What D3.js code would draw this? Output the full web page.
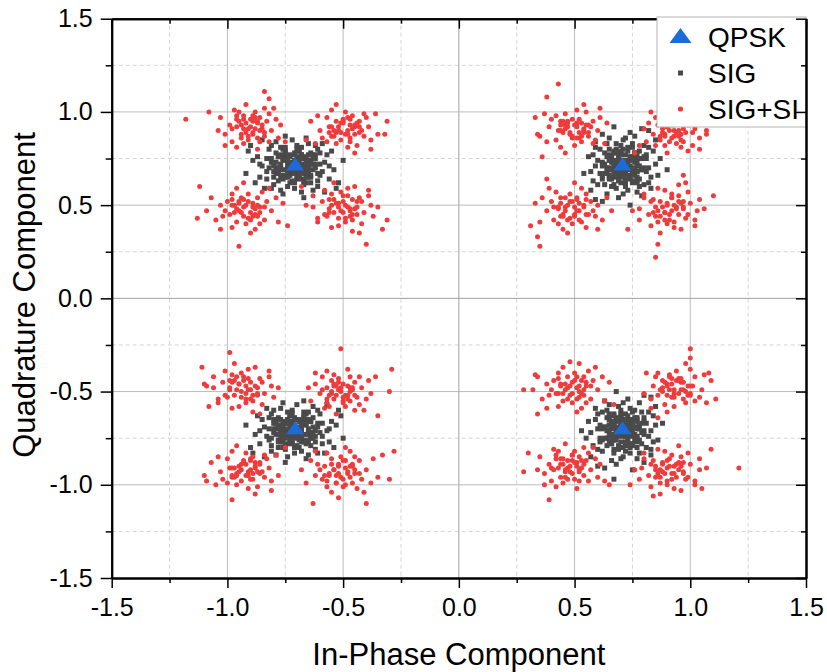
<!DOCTYPE html>
<html>
<head>
<meta charset="utf-8">
<script src="https://cdn.jsdelivr.net/npm/d3@7"></script>
<style>
body { margin: 0; background: #fff; }
text { font-family: Arial, "Liberation Sans", sans-serif; }
</style>
</head>
<body>
<svg id="chart" width="827" height="672"></svg>
<script>
const majorTicks = [-1.5, -1.0, -0.5, 0.0, 0.5, 1.0, 1.5];
const minorTicks = [-1.25, -0.75, -0.25, 0.25, 0.75, 1.25];
const seriesNames = ['QPSK', 'SIG', 'SIG+SI'];

// ideal constellation points
const qpsk = [[-0.707, 0.707], [0.707, 0.707], [-0.707, -0.707], [0.707, -0.707]];

// received signal (SIG), one array per quadrant
const sigTL = [
[-.71,.71],[-.68,.69],[-.75,.76],[-.65,.74],[-.78,.67],[-.69,.79],[-.73,.62],[-.62,.70],[-.81,.73],[-.66,.65],
[-.76,.64],[-.63,.77],[-.79,.78],[-.60,.66],[-.83,.68],[-.70,.82],[-.71,.59],[-.58,.73],[-.85,.71],[-.67,.75],
[-.74,.74],[-.64,.62],[-.80,.61],[-.61,.80],[-.77,.81],[-.56,.64],[-.87,.76],[-.68,.57],[-.72,.85],[-.59,.83],
[-.84,.59],[-.65,.69],[-.77,.72],[-.69,.66],[-.73,.77],[-.62,.75],[-.80,.68],[-.67,.61],[-.75,.81],[-.57,.77],
[-.86,.65],[-.54,.69],[-.89,.74],[-.63,.58],[-.79,.84],[-.66,.86],[-.76,.56],[-.60,.72],[-.82,.70],[-.70,.74],
[-.72,.68],[-.64,.78],[-.78,.63],[-.68,.81],[-.74,.60],[-.61,.60],[-.81,.82],[-.55,.79],[-.88,.62],[-.69,.72],
[-.74,.70],[-.65,.67],[-.76,.75],[-.59,.68],[-.83,.75],[-.71,.78],[-.70,.64],[-.63,.72],[-.79,.70],[-.52,.62],
[-.91,.79],[-.67,.54],[-.75,.87],[-.58,.57],[-.85,.85],[-.50,.74],[-.92,.67],[-.62,.82],[-.81,.59],[-.69,.69],
[-.72,.73],[-.66,.73],[-.77,.69],[-.68,.77],[-.75,.65],[-.56,.71],[-.86,.72],[-.64,.65],[-.78,.76],[-.60,.78],
[-.83,.64],[-.65,.83],[-.77,.58],[-.53,.59],[-.90,.82],[-.71,.67],[-.67,.71],[-.73,.66],[-.61,.63],[-.82,.80],
[-.70,.72],[-.72,.70],[-.69,.68],[-.74,.73],[-.67,.72],[-.75,.69],[-.70,.76],[-.73,.67],[-.66,.69],[-.76,.74],
[-.68,.75],[-.74,.67],[-.65,.71],[-.77,.70],[-.71,.77],[-.70,.65],[-.64,.74],[-.78,.68],[-.68,.64],[-.75,.78],
[-.63,.69],[-.79,.73],[-.69,.79],[-.72,.63],[-.65,.77],[-.77,.65],[-.65,.65],[-.77,.77],[-.62,.72],[-.80,.71],
[-.71,.62],[-.70,.80],[-.67,.67],[-.75,.75],[-.69,.73],[-.73,.69],[-.66,.76],[-.76,.66],[-.64,.66],[-.78,.76],
[-.68,.71],[-.74,.71],[-.71,.74],[-.71,.69],[-.63,.75],[-.79,.67],[-.67,.63],[-.75,.79],[-.61,.67],[-.81,.75],
[-.66,.62],[-.76,.80],[-.62,.77],[-.80,.65],[-.69,.66],[-.73,.76],[-.64,.72],[-.78,.70],[-.68,.77],[-.74,.65]
];
const sigTR = [
[.71,.71],[.69,.68],[.76,.75],[.74,.65],[.67,.78],[.79,.69],[.62,.73],[.70,.62],[.73,.81],[.65,.66],
[.64,.76],[.77,.63],[.78,.79],[.66,.60],[.68,.83],[.82,.70],[.59,.71],[.73,.58],[.71,.85],[.75,.67],
[.74,.74],[.62,.64],[.61,.80],[.80,.61],[.81,.77],[.64,.56],[.76,.87],[.57,.68],[.85,.72],[.83,.59],
[.59,.84],[.69,.65],[.72,.77],[.66,.69],[.77,.73],[.75,.62],[.68,.80],[.61,.67],[.81,.75],[.77,.57],
[.65,.86],[.69,.54],[.74,.89],[.58,.63],[.84,.79],[.86,.66],[.56,.76],[.72,.60],[.70,.82],[.74,.70],
[.68,.72],[.78,.64],[.63,.78],[.81,.68],[.60,.74],[.60,.61],[.82,.81],[.79,.55],[.62,.88],[.72,.69],
[.70,.74],[.67,.65],[.75,.76],[.68,.59],[.75,.83],[.78,.71],[.64,.70],[.72,.63],[.70,.79],[.62,.52],
[.79,.91],[.54,.67],[.87,.75],[.57,.58],[.85,.85],[.74,.50],[.67,.92],[.82,.62],[.59,.81],[.69,.69],
[.73,.72],[.73,.66],[.69,.77],[.77,.68],[.65,.75],[.71,.56],[.72,.86],[.65,.64],[.76,.78],[.78,.60],
[.64,.83],[.83,.65],[.58,.77],[.59,.53],[.82,.90],[.67,.71],[.71,.67],[.66,.73],[.63,.61],[.80,.82],
[.90,.69],
[.72,.70],[.70,.72],[.68,.69],[.73,.74],[.72,.67],[.69,.75],[.76,.70],[.67,.73],[.69,.66],[.74,.76],
[.75,.68],[.67,.74],[.71,.65],[.70,.77],[.77,.71],[.65,.70],[.74,.64],[.68,.78],[.64,.68],[.78,.75],
[.69,.63],[.73,.79],[.79,.69],[.63,.72],[.77,.65],[.65,.77],[.65,.65],[.77,.77],[.72,.62],[.71,.80],
[.62,.71],[.80,.70],[.67,.67],[.75,.75],[.73,.69],[.69,.73],[.76,.66],[.66,.76],[.66,.64],[.76,.78],
[.71,.68],[.71,.74],[.74,.71],[.69,.71],[.75,.63],[.67,.79],[.63,.67],[.79,.75],[.67,.61],[.75,.81],
[.62,.66],[.80,.76],[.77,.62],[.65,.80],[.66,.69],[.76,.73],[.72,.64],[.70,.78],[.77,.68],[.65,.74]
];
const sigBL = [
[-.71,-.71],[-.74,-.73],[-.67,-.66],[-.77,-.68],[-.64,-.75],[-.73,-.63],[-.69,-.80],[-.80,-.72],[-.61,-.69],[-.76,-.77],
[-.66,-.78],[-.79,-.65],[-.63,-.64],[-.82,-.76],[-.59,-.74],[-.72,-.60],[-.71,-.83],[-.84,-.69],[-.57,-.71],[-.75,-.67],
[-.68,-.68],[-.78,-.80],[-.62,-.81],[-.81,-.62],[-.65,-.61],[-.86,-.78],[-.55,-.66],[-.74,-.85],[-.70,-.57],[-.83,-.59],
[-.58,-.83],[-.77,-.73],[-.65,-.70],[-.73,-.76],[-.69,-.65],[-.80,-.67],[-.62,-.74],[-.75,-.81],[-.67,-.61],[-.85,-.65],
[-.56,-.77],[-.88,-.73],[-.53,-.68],[-.79,-.84],[-.63,-.58],[-.76,-.56],[-.66,-.86],[-.82,-.70],[-.60,-.72],[-.72,-.68],
[-.70,-.74],[-.78,-.64],[-.64,-.79],[-.74,-.61],[-.68,-.82],[-.81,-.82],[-.61,-.60],[-.87,-.63],[-.54,-.80],[-.73,-.70],
[-.68,-.72],[-.77,-.75],[-.66,-.67],[-.83,-.74],[-.59,-.67],[-.71,-.64],[-.72,-.78],[-.79,-.70],[-.63,-.72],[-.90,-.80],
[-.51,-.63],[-.75,-.88],[-.67,-.55],[-.84,-.85],[-.57,-.57],[-.92,-.68],[-.50,-.75],[-.80,-.60],[-.61,-.83],[-.73,-.73],
[-.70,-.69],[-.76,-.69],[-.65,-.73],[-.74,-.65],[-.67,-.77],[-.86,-.71],[-.56,-.70],[-.78,-.77],[-.64,-.66],[-.82,-.64],
[-.59,-.78],[-.77,-.59],[-.65,-.84],[-.89,-.83],[-.52,-.60],[-.71,-.75],[-.75,-.71],[-.69,-.76],[-.81,-.79],[-.60,-.62],
[-.72,-.70],[-.70,-.72],[-.73,-.74],[-.68,-.69],[-.75,-.70],[-.67,-.73],[-.72,-.66],[-.69,-.75],[-.76,-.73],[-.66,-.68],
[-.74,-.67],[-.68,-.75],[-.77,-.71],[-.65,-.72],[-.71,-.65],[-.72,-.77],[-.78,-.68],[-.64,-.74],[-.74,-.78],[-.67,-.64],
[-.79,-.73],[-.63,-.69],[-.73,-.63],[-.70,-.79],[-.77,-.65],[-.65,-.77],[-.77,-.77],[-.65,-.65],[-.80,-.70],[-.62,-.71],
[-.71,-.80],[-.72,-.62],[-.75,-.75],[-.67,-.67],[-.73,-.69],[-.69,-.73],[-.76,-.66],[-.66,-.76],[-.78,-.76],[-.64,-.66],
[-.74,-.71],[-.68,-.71],[-.71,-.68],[-.71,-.73],[-.79,-.67],[-.63,-.75],[-.75,-.79],[-.67,-.63],[-.81,-.75],[-.61,-.67],
[-.76,-.80],[-.66,-.62],[-.80,-.65],[-.62,-.77],[-.73,-.76],[-.69,-.66],[-.78,-.70],[-.64,-.72],[-.74,-.65],[-.68,-.77]
];
const sigBR = [
[.71,-.71],[.73,-.68],[.66,-.75],[.68,-.65],[.75,-.78],[.63,-.69],[.80,-.73],[.72,-.62],[.69,-.81],[.77,-.66],
[.78,-.76],[.65,-.63],[.64,-.79],[.76,-.60],[.74,-.83],[.60,-.70],[.83,-.71],[.69,-.58],[.71,-.85],[.67,-.67],
[.68,-.74],[.80,-.64],[.81,-.80],[.62,-.61],[.61,-.77],[.78,-.56],[.66,-.87],[.85,-.68],[.57,-.72],[.59,-.59],
[.83,-.84],[.73,-.65],[.70,-.77],[.76,-.69],[.65,-.73],[.67,-.62],[.74,-.80],[.81,-.67],[.61,-.75],[.65,-.57],
[.77,-.86],[.73,-.54],[.68,-.89],[.84,-.63],[.58,-.79],[.56,-.66],[.86,-.76],[.70,-.60],[.72,-.82],[.68,-.70],
[.74,-.72],[.64,-.64],[.79,-.78],[.61,-.68],[.82,-.74],[.82,-.61],[.60,-.81],[.63,-.55],[.80,-.88],[.70,-.69],
[.72,-.74],[.75,-.65],[.67,-.76],[.74,-.59],[.67,-.83],[.64,-.71],[.78,-.70],[.70,-.63],[.72,-.79],[.80,-.52],
[.63,-.91],[.88,-.67],[.55,-.75],[.85,-.58],[.57,-.85],[.68,-.50],[.75,-.92],[.60,-.62],[.83,-.81],[.73,-.69],
[.69,-.72],[.69,-.66],[.73,-.77],[.65,-.68],[.77,-.75],[.71,-.56],[.70,-.86],[.77,-.64],[.66,-.78],[.64,-.60],
[.78,-.83],[.59,-.65],[.84,-.77],[.83,-.53],[.60,-.90],[.75,-.71],[.71,-.67],[.76,-.73],[.79,-.61],[.62,-.82],
[.67,-.97],[.53,-.71],
[.70,-.70],[.72,-.72],[.74,-.69],[.69,-.74],[.70,-.67],[.73,-.75],[.66,-.70],[.75,-.73],[.73,-.66],[.68,-.76],
[.67,-.68],[.75,-.74],[.71,-.65],[.72,-.77],[.65,-.71],[.77,-.70],[.68,-.64],[.74,-.78],[.78,-.68],[.64,-.75],
[.73,-.63],[.69,-.79],[.63,-.69],[.79,-.72],[.65,-.65],[.77,-.77],[.77,-.65],[.65,-.77],[.70,-.62],[.71,-.80],
[.80,-.71],[.62,-.70],[.75,-.67],[.67,-.75],[.69,-.69],[.73,-.73],[.66,-.66],[.76,-.76],[.76,-.64],[.66,-.78],
[.71,-.68],[.71,-.74],[.68,-.71],[.73,-.71],[.67,-.63],[.75,-.79],[.79,-.67],[.63,-.75],[.75,-.61],[.67,-.81],
[.80,-.66],[.62,-.76],[.65,-.62],[.77,-.80],[.76,-.69],[.66,-.73],[.70,-.64],[.72,-.78],[.65,-.68],[.77,-.74]
];

// signal with self-interference (SIG+SI), one array per quadrant
const sigSiTL = [
[-.90,.92],[-.87,.94],[-.94,.93],[-.89,.88],[-.92,.89],[-.85,.91],[-.96,.96],[-.86,.97],[-.94,.86],[-.89,.98],
[-.91,.85],[-.83,.95],[-.98,.91],[-.84,.87],[-.96,.98],[-.88,1.00],[-.93,.83],[-.81,.90],[-.99,.93],[-.82,.99],
[-.98,.84],[-.86,.84],[-.95,1.00],[-.79,.96],[-1.01,.88],[-.84,1.02],[-.96,.81],[-.78,.86],[-1.03,.97],[-.89,.95],
[-.91,.91],[-.86,.90],[-.93,.96],[-.82,.84],[-.97,1.01],[-.77,.93],[-1.04,.90],[-.87,.80],[-.92,1.04],[-.80,1.02],
[-1.01,.82],[-.75,.84],
[-.88,.91],[-.92,.94],[-.87,.95],[-.93,.91],[-.90,.96],[-.89,.89],[-.94,.88],[-.85,.93],[-.95,.95],[-.88,.97],
[-.91,.87],[-.84,.89],[-.96,.92],[-.87,.86],[-.93,.98],
[-1.18,.96],[-.84,1.11],[-1.08,1.00],[-.82,1.07],
[-.48,.90],[-.51,.94],[-.45,.92],[-.53,.89],[-.47,.86],[-.50,.96],[-.43,.95],[-.55,.87],[-.43,.89],[-.56,.92],
[-.46,.98],[-.53,.83],[-.41,.87],[-.57,.97],[-.41,.99],[-.57,.84],[-.49,1.00],[-.48,.81],[-.39,.92],[-.60,.90],
[-.44,.82],[-.55,1.01],[-.38,.85],[-.61,.98],[-.45,.93],[-.52,.90],[-.48,.88],[-.50,.95],[-.42,.90],[-.55,.92],
[-.40,.97],[-.59,.86],[-.36,.99],[-.62,.83],[-.45,.78],[-.53,1.04],[-.35,.88],[-.64,.95],[-.47,.96],[-.54,.87],
[-.38,.80],[-.66,.85],
[-.51,.89],[-.46,.91],[-.50,.94],[-.47,.93],[-.52,.92],[-.49,.88],[-.45,.88],[-.53,.95],[-.44,.94],[-.54,.90],
[-.48,.97],[-.47,.84],[-.51,.85],[-.43,.92],[-.56,.89],
[-.31,.95],[-.32,.88],
[-.93,.49],[-.91,.52],[-.95,.47],[-.88,.45],[-.97,.50],[-.90,.42],[-.94,.54],[-.86,.49],[-.99,.45],[-.87,.54],
[-.96,.41],[-.84,.42],[-1.00,.52],[-.92,.40],[-.91,.56],[-.83,.52],[-1.02,.44],[-.85,.57],[-.98,.38],[-.81,.47],
[-1.03,.50],[-.88,.37],[-.96,.59],[-.79,.54],[-1.05,.42],[-.89,.49],[-.93,.44],[-.87,.44],[-.98,.53],[-.84,.49],
[-1.01,.47],[-.86,.40],[-.98,.56],[-.78,.41],[-1.07,.54],[-.82,.59],[-1.03,.37],[-.90,.35],[-.93,.62],[-.76,.51],
[-1.09,.47],[-.74,.39],
[-.92,.50],[-.90,.46],[-.94,.46],[-.89,.51],[-.95,.51],[-.88,.48],[-.96,.48],[-.91,.43],[-.93,.53],[-.87,.50],
[-.97,.46],[-.89,.44],[-.95,.52],[-.86,.46],[-.98,.50],
[-1.13,.43],[-.95,.28],[-1.12,.60],
[-.49,.50],[-.51,.47],[-.46,.45],[-.54,.53],[-.44,.49],[-.56,.48],[-.50,.55],[-.49,.43],[-.43,.54],[-.57,.44],
[-.46,.42],[-.55,.56],[-.41,.46],[-.59,.52],[-.48,.59],[-.52,.39],[-.39,.55],[-.61,.43],[-.42,.40],[-.58,.58],
[-.38,.50],[-.63,.49],[-.45,.60],[-.55,.38],[-.47,.48],[-.52,.51],[-.44,.45],[-.56,.53],[-.42,.52],[-.58,.45],
[-.49,.41],[-.51,.57],[-.37,.44],[-.63,.55],[-.39,.58],[-.61,.41],[-.46,.36],[-.54,.62],[-.35,.49],[-.66,.50],
[-.43,.35],[-.68,.60],
[-.48,.49],[-.52,.49],[-.50,.52],[-.50,.46],[-.47,.47],[-.53,.51],[-.46,.53],[-.54,.46],[-.45,.48],[-.55,.50],
[-.48,.55],[-.52,.43],[-.44,.52],[-.56,.46],[-.47,.44],
[-.31,.42],[-.33,.37],[-.40,.29]
];
const sigSiTR = [
[.51,.92],[.48,.88],[.54,.90],[.46,.93],[.52,.96],[.49,.86],[.56,.87],[.44,.95],[.56,.93],[.43,.90],
[.53,.84],[.46,.99],[.58,.95],[.42,.85],[.58,.83],[.42,.98],[.50,.82],[.51,1.01],[.60,.90],[.39,.92],
[.55,1.00],[.44,.81],[.61,.97],[.38,.84],[.54,.89],[.47,.92],[.51,.94],[.49,.87],[.57,.92],[.44,.90],
[.59,.85],[.40,.96],[.63,.83],[.37,.99],[.54,1.04],[.46,.78],[.64,.94],[.35,.87],[.52,.86],[.45,.95],
[.61,1.02],[.33,.97],
[.50,.93],[.52,.89],[.48,.89],[.53,.94],[.47,.94],[.54,.91],[.46,.91],[.51,.86],[.49,.96],[.55,.93],
[.45,.89],[.53,.87],[.47,.95],[.56,.89],[.44,.93],
[.43,1.15],[.38,1.08],[.34,.88],[.36,.76],
[.93,.90],[.90,.92],[.97,.91],[.92,.86],[.95,.87],[.88,.89],[.99,.94],[.89,.95],[.97,.84],[.92,.96],
[.94,.83],[.86,.93],[1.01,.89],[.87,.85],[.99,.96],[.91,.98],[.96,.81],[.84,.88],[1.02,.91],[.85,.97],
[1.01,.82],[.89,.82],[.98,.98],[.82,.94],[1.04,.86],[.87,1.00],[.99,.79],[.81,.84],[1.06,.95],[.92,.93],
[.94,.89],[.89,.88],[.96,.94],[.85,.82],[1.00,.99],[.80,.91],[1.07,.88],[.90,.78],[.95,1.02],[.83,1.00],
[1.04,.80],[.78,.82],
[.95,.90],[.91,.90],[.93,.93],[.93,.87],[.96,.88],[.90,.92],[.97,.94],[.89,.87],[.98,.89],[.88,.91],
[.95,.96],[.91,.84],[.99,.93],[.87,.87],[.96,.85],
[1.07,.90],[.76,.78],
[.50,.49],[.48,.52],[.52,.47],[.45,.45],[.54,.50],[.47,.42],[.51,.54],[.43,.49],[.56,.45],[.44,.54],
[.53,.41],[.41,.42],[.57,.52],[.49,.40],[.48,.56],[.40,.52],[.59,.44],[.42,.57],[.55,.38],[.38,.47],
[.60,.50],[.45,.37],[.53,.59],[.36,.54],[.62,.42],[.46,.49],[.50,.44],[.44,.44],[.55,.53],[.41,.49],
[.58,.47],[.43,.40],[.55,.56],[.35,.41],[.64,.54],[.39,.59],[.60,.37],[.47,.35],[.50,.62],[.33,.51],
[.66,.47],[.31,.39],
[.51,.47],[.47,.50],[.52,.51],[.46,.47],[.49,.52],[.50,.45],[.45,.44],[.54,.49],[.44,.51],[.51,.53],
[.48,.43],[.55,.45],[.43,.48],[.52,.42],[.46,.54],
[.35,.28],[.34,.33],[.38,.64],
[.92,.47],[.90,.50],[.95,.52],[.87,.44],[.97,.48],[.85,.49],[.91,.42],[.92,.54],[.98,.43],[.84,.53],
[.95,.55],[.86,.41],[1.00,.51],[.82,.45],[.93,.38],[.89,.58],[1.02,.42],[.80,.54],[.99,.57],[.83,.39],
[1.03,.47],[.78,.48],[.96,.37],[.86,.59],[.94,.49],[.89,.46],[.97,.52],[.85,.44],[.99,.45],[.83,.52],
[.92,.56],[.90,.40],[1.04,.53],[.78,.42],[1.02,.39],[.80,.56],[.95,.61],[.87,.35],[1.06,.48],[.75,.47],
[.98,.62],[.73,.37],
[.89,.46],[.94,.48],[.90,.51],[.93,.50],[.88,.49],[.91,.45],[.95,.45],[.87,.52],[.96,.51],[.86,.47],
[.92,.54],[.93,.41],[.89,.42],[.97,.49],[.84,.46],
[.85,.22],[1.10,.55],[.97,.66],[.86,.29]
];
const sigSiBL = [
[-.92,-.47],[-.94,-.50],[-.89,-.52],[-.97,-.44],[-.87,-.48],[-.99,-.49],[-.93,-.42],[-.92,-.54],[-.86,-.43],[-1.00,-.53],
[-.89,-.55],[-.98,-.41],[-.84,-.51],[-1.02,-.45],[-.91,-.38],[-.95,-.58],[-.82,-.42],[-1.04,-.54],[-.85,-.57],[-1.01,-.39],
[-.81,-.47],[-1.06,-.48],[-.88,-.37],[-.98,-.59],[-.90,-.49],[-.95,-.46],[-.87,-.52],[-.99,-.44],[-.85,-.45],[-1.01,-.52],
[-.92,-.56],[-.94,-.40],[-.80,-.53],[-1.06,-.42],[-.82,-.39],[-1.04,-.56],[-.89,-.61],[-.97,-.35],[-.78,-.48],[-1.09,-.47],
[-.86,-.62],[-1.11,-.37],
[-.91,-.49],[-.95,-.46],[-.90,-.45],[-.96,-.49],[-.93,-.44],[-.92,-.51],[-.97,-.52],[-.88,-.47],[-.98,-.45],[-.91,-.43],
[-.94,-.53],[-.87,-.51],[-.99,-.48],[-.90,-.54],[-.96,-.42],
[-1.08,-.58],[-.99,-.29],[-1.10,-.46],
[-.51,-.50],[-.48,-.52],[-.55,-.51],[-.50,-.46],[-.53,-.47],[-.46,-.49],[-.57,-.54],[-.47,-.55],[-.55,-.44],[-.50,-.56],
[-.52,-.43],[-.44,-.53],[-.59,-.49],[-.45,-.45],[-.57,-.56],[-.49,-.58],[-.54,-.41],[-.42,-.48],[-.60,-.51],[-.43,-.57],
[-.59,-.42],[-.47,-.42],[-.56,-.58],[-.40,-.54],[-.62,-.46],[-.45,-.60],[-.57,-.39],[-.39,-.44],[-.64,-.55],[-.50,-.53],
[-.52,-.49],[-.47,-.48],[-.54,-.54],[-.43,-.42],[-.58,-.59],[-.38,-.51],[-.65,-.48],[-.48,-.38],[-.53,-.62],[-.41,-.60],
[-.62,-.40],[-.36,-.42],
[-.51,-.48],[-.49,-.52],[-.53,-.52],[-.48,-.47],[-.54,-.47],[-.47,-.50],[-.55,-.50],[-.50,-.55],[-.52,-.45],[-.46,-.48],
[-.56,-.52],[-.48,-.54],[-.54,-.46],[-.45,-.52],[-.57,-.48],
[-.51,-.27],[-.29,-.38],[-.30,-.50],[-.35,-.63],
[-.91,-.93],[-.94,-.89],[-.88,-.91],[-.96,-.94],[-.90,-.97],[-.93,-.87],[-.86,-.88],[-.98,-.96],[-.86,-.94],[-.99,-.91],
[-.89,-.85],[-.96,-1.00],[-.84,-.96],[-1.00,-.86],[-.84,-.84],[-1.00,-.99],[-.92,-.83],[-.91,-1.02],[-.82,-.91],[-1.03,-.93],
[-.87,-1.01],[-.98,-.82],[-.81,-.98],[-1.04,-.85],[-.88,-.90],[-.95,-.93],[-.91,-.95],[-.93,-.88],[-.85,-.93],[-.98,-.91],
[-.83,-.86],[-1.02,-.97],[-.79,-.84],[-1.05,-1.00],[-.88,-1.05],[-.96,-.79],[-.78,-.95],[-1.07,-.88],[-.90,-.87],[-.97,-.96],
[-.81,-1.03],[-1.09,-.98],
[-.90,-.92],[-.94,-.92],[-.92,-.89],[-.92,-.95],[-.89,-.94],[-.95,-.90],[-.88,-.88],[-.96,-.95],[-.87,-.93],[-.97,-.91],
[-.90,-.86],[-.94,-.98],[-.86,-.89],[-.98,-.95],[-.89,-.97],
[-1.10,-.95],[-.75,-.80],[-.98,-1.08],
[-.52,-.94],[-.50,-.97],[-.54,-.92],[-.47,-.90],[-.56,-.95],[-.49,-.87],[-.53,-.99],[-.45,-.94],[-.58,-.90],[-.46,-.99],
[-.55,-.86],[-.43,-.87],[-.59,-.97],[-.51,-.85],[-.50,-1.01],[-.42,-.97],[-.61,-.89],[-.44,-1.02],[-.57,-.83],[-.40,-.92],
[-.62,-.95],[-.47,-.82],[-.55,-1.04],[-.38,-.99],[-.64,-.87],[-.48,-.94],[-.52,-.89],[-.46,-.89],[-.57,-.98],[-.43,-.94],
[-.60,-.92],[-.45,-.85],[-.57,-1.01],[-.37,-.86],[-.66,-.99],[-.41,-1.04],[-.62,-.82],[-.49,-.80],[-.52,-1.07],[-.35,-.96],
[-.68,-.92],[-.33,-.84],
[-.53,-.95],[-.48,-.93],[-.52,-.90],[-.49,-.91],[-.54,-.92],[-.51,-.96],[-.47,-.96],[-.55,-.89],[-.46,-.90],[-.56,-.94],
[-.50,-.87],[-.49,-1.00],[-.53,-.99],[-.45,-.92],[-.58,-.95],
[-.63,-1.10],[-.28,-.82],[-.30,-.97],[-.40,-1.10]
];
const sigSiBR = [
[.48,-.47],[.50,-.44],[.46,-.49],[.53,-.51],[.44,-.46],[.51,-.54],[.47,-.42],[.55,-.47],[.42,-.51],[.54,-.42],
[.45,-.55],[.57,-.54],[.41,-.44],[.49,-.56],[.50,-.40],[.58,-.44],[.39,-.52],[.56,-.39],[.43,-.58],[.60,-.49],
[.38,-.46],[.53,-.59],[.45,-.37],[.62,-.42],[.36,-.54],[.52,-.47],[.48,-.52],[.54,-.52],[.43,-.43],[.57,-.47],
[.40,-.49],[.55,-.56],[.43,-.40],[.63,-.55],[.34,-.42],[.59,-.37],[.38,-.59],[.51,-.61],[.48,-.34],[.65,-.45],
[.32,-.49],[.67,-.57],
[.51,-.48],[.47,-.48],[.49,-.45],[.49,-.51],[.52,-.50],[.46,-.46],[.53,-.44],[.45,-.51],[.54,-.49],[.44,-.47],
[.51,-.42],[.47,-.54],[.55,-.45],[.43,-.51],[.52,-.53],
[.28,-.49],[.33,-.41],[.52,-.35],[.34,-.62],
[.93,-.49],[.96,-.45],[.90,-.47],[.98,-.50],[.92,-.53],[.95,-.43],[.88,-.44],[1.00,-.52],[.88,-.50],[1.01,-.47],
[.91,-.41],[.98,-.56],[.86,-.52],[1.02,-.42],[.86,-.40],[1.02,-.55],[.94,-.39],[.93,-.58],[.84,-.47],[1.05,-.49],
[.89,-.57],[1.00,-.38],[.83,-.54],[1.06,-.41],[.90,-.46],[.97,-.49],[.93,-.51],[.95,-.44],[.87,-.49],[1.00,-.47],
[.85,-.42],[1.04,-.53],[.81,-.40],[1.07,-.56],[.90,-.61],[.98,-.35],[.80,-.51],[1.09,-.44],[.92,-.43],[.99,-.52],
[.83,-.59],[1.11,-.54],
[.96,-.49],[.92,-.46],[.97,-.45],[.91,-.49],[.94,-.44],[.95,-.51],[.90,-.52],[.99,-.47],[.89,-.45],[.96,-.43],
[.93,-.53],[1.00,-.51],[.88,-.48],[.97,-.54],[.91,-.42],
[1.00,-.27],[1.00,-.32],[1.08,-.40],[.86,-.64],
[.48,-.90],[.51,-.88],[.44,-.89],[.49,-.94],[.46,-.93],[.53,-.91],[.42,-.86],[.52,-.85],[.44,-.96],[.49,-.84],
[.47,-.97],[.55,-.87],[.40,-.91],[.54,-.95],[.42,-.84],[.50,-.82],[.45,-.99],[.57,-.92],[.39,-.89],[.56,-.83],
[.40,-.98],[.52,-.98],[.43,-.82],[.59,-.86],[.37,-.94],[.54,-.80],[.42,-1.01],[.60,-.96],[.35,-.85],[.49,-.87],
[.47,-.91],[.52,-.92],[.45,-.86],[.56,-.98],[.41,-.81],[.61,-.89],[.34,-.92],[.51,-1.02],[.46,-.78],[.58,-.80],
[.37,-1.00],[.63,-.98],
[.46,-.92],[.51,-.90],[.47,-.87],[.50,-.88],[.45,-.89],[.48,-.93],[.52,-.93],[.44,-.86],[.53,-.87],[.43,-.91],
[.49,-.84],[.50,-.97],[.46,-.96],[.54,-.89],[.41,-.92],
[.39,-1.08],[.30,-.83],[.28,-.93],[.65,-1.00],
[.90,-.91],[.92,-.94],[.87,-.96],[.95,-.88],[.85,-.92],[.97,-.93],[.91,-.86],[.90,-.98],[.84,-.87],[.98,-.97],
[.87,-.99],[.96,-.85],[.82,-.95],[1.00,-.89],[.89,-.82],[.93,-1.02],[.80,-.86],[1.02,-.98],[.83,-1.01],[.99,-.83],
[.79,-.91],[1.04,-.92],[.86,-.81],[.96,-1.03],[.88,-.93],[.93,-.90],[.85,-.96],[.97,-.88],[.83,-.89],[.99,-.96],
[.90,-1.00],[.92,-.84],[.78,-.97],[1.04,-.86],[.80,-.83],[1.02,-1.00],[.87,-1.05],[.95,-.79],[.76,-.92],[1.07,-.91],
[.84,-1.06],[1.09,-.81],
[.91,-.90],[.93,-.94],[.89,-.94],[.94,-.89],[.88,-.89],[.95,-.92],[.87,-.92],[.92,-.97],[.90,-.87],[.96,-.90],
[.86,-.94],[.94,-.96],[.88,-.88],[.97,-.94],[.85,-.90],
[1.21,-.91],[1.05,-1.02],[.74,-1.00]
];

const sig = [].concat(sigTL, sigTR, sigBL, sigBR);
const sigSi = [].concat(sigSiTL, sigSiTR, sigSiBL, sigSiBR);

const svg = d3.select('#chart');
const plotLeft = 111.7, plotRight = 806, plotTop = 18.7, plotBottom = 578;

const x = d3.scaleLinear().domain([-1.5, 1.5]).range([plotLeft, plotRight]);
const y = d3.scaleLinear().domain([-1.5, 1.5]).range([plotBottom, plotTop]);

const fmt = d => d.toFixed(1);

// grid lines: dashed minor, solid major
const grid = svg.append('g');
grid.selectAll('.gx-minor').data(minorTicks).enter().append('line')
    .attr('x1', d => x(d)).attr('x2', d => x(d))
    .attr('y1', plotTop).attr('y2', plotBottom)
    .attr('stroke', '#d4d4d4').attr('stroke-dasharray', '4,3');
grid.selectAll('.gy-minor').data(minorTicks).enter().append('line')
    .attr('y1', d => y(d)).attr('y2', d => y(d))
    .attr('x1', plotLeft).attr('x2', plotRight)
    .attr('stroke', '#d4d4d4').attr('stroke-dasharray', '4,3');
grid.selectAll('.gx-major').data(majorTicks.slice(1, -1)).enter().append('line')
    .attr('x1', d => x(d)).attr('x2', d => x(d))
    .attr('y1', plotTop).attr('y2', plotBottom)
    .attr('stroke', d => d === 0 ? '#a0a0a0' : '#bcbcbc');
grid.selectAll('.gy-major').data(majorTicks.slice(1, -1)).enter().append('line')
    .attr('y1', d => y(d)).attr('y2', d => y(d))
    .attr('x1', plotLeft).attr('x2', plotRight)
    .attr('stroke', d => d === 0 ? '#a0a0a0' : '#bcbcbc');

// SIG squares
svg.append('g').selectAll('rect').data(sig).enter().append('rect')
    .attr('x', d => x(d[0]) - 2.5)
    .attr('y', d => y(d[1]) - 2.5)
    .attr('width', 5).attr('height', 5)
    .attr('fill', '#4a4a4a');

// SIG+SI dots
svg.append('g').selectAll('circle').data(sigSi).enter().append('circle')
    .attr('cx', d => x(d[0]))
    .attr('cy', d => y(d[1]))
    .attr('r', 2.5)
    .attr('fill', '#ef3b3b');

// QPSK triangles
svg.append('g').selectAll('path').data(qpsk).enter().append('path')
    .attr('d', 'M0,-9L9,4L-9,4Z')
    .attr('transform', d => 'translate(' + x(d[0]) + ',' + y(d[1]) + ')')
    .attr('fill', '#1c6bdc');

const styleAxis = (g) => {
    g.select('.domain').attr('stroke', '#000').attr('stroke-width', 2);
    g.selectAll('.tick line').attr('stroke', '#000').attr('stroke-width', 1.5);
    g.selectAll('.tick text').attr('fill', '#000')
        .style('font-size', '25px')
        .style('font-family', 'Arial, "Liberation Sans", sans-serif');
};

// bottom axis
svg.append('g').attr('transform', 'translate(0,' + plotBottom + ')')
    .call(d3.axisBottom(x).tickValues(minorTicks).tickSize(5).tickSizeOuter(0).tickFormat(''))
    .call(styleAxis);
svg.append('g').attr('transform', 'translate(0,' + plotBottom + ')')
    .call(d3.axisBottom(x).tickValues(majorTicks).tickSize(10).tickSizeOuter(0).tickPadding(10).tickFormat(fmt))
    .call(styleAxis);

// left axis
svg.append('g').attr('transform', 'translate(' + plotLeft + ',0)')
    .call(d3.axisLeft(y).tickValues(minorTicks).tickSize(6).tickSizeOuter(0).tickFormat(''))
    .call(styleAxis);
svg.append('g').attr('transform', 'translate(' + plotLeft + ',0)')
    .call(d3.axisLeft(y).tickValues(majorTicks).tickSize(11).tickSizeOuter(0).tickPadding(8).tickFormat(fmt))
    .call(styleAxis);

// top axis, ticks pointing inward
svg.append('g').attr('transform', 'translate(0,' + plotTop + ')')
    .call(d3.axisTop(x).tickValues(minorTicks).tickSize(-5).tickSizeOuter(0).tickFormat(''))
    .call(styleAxis);
svg.append('g').attr('transform', 'translate(0,' + plotTop + ')')
    .call(d3.axisTop(x).tickValues(majorTicks).tickSize(-10).tickSizeOuter(0).tickFormat(''))
    .call(styleAxis);

// legend box sits over the top axis
const legend = svg.append('g');
legend.append('rect')
    .attr('x', 657).attr('y', 17)
    .attr('width', 149).attr('height', 110)
    .attr('fill', '#fff').attr('stroke', '#b4b4b4').attr('stroke-width', 1);
legend.append('path')
    .attr('d', 'M0,-10L11,5L-11,5Z')
    .attr('transform', 'translate(680.5,38)')
    .attr('fill', '#1c6bdc');
legend.append('rect')
    .attr('x', 678).attr('y', 70.5).attr('width', 5).attr('height', 5)
    .attr('fill', '#4a4a4a');
legend.append('circle')
    .attr('cx', 680.5).attr('cy', 109).attr('r', 2.6)
    .attr('fill', '#ef3b3b');
legend.selectAll('text').data(seriesNames).enter().append('text')
    .attr('x', 708)
    .attr('y', (d, i) => 47 + i * 36)
    .style('font-size', '28px')
    .attr('fill', '#000')
    .text(d => d);

// right axis, ticks pointing inward
svg.append('g').attr('transform', 'translate(' + plotRight + ',0)')
    .call(d3.axisRight(y).tickValues(minorTicks).tickSize(-5).tickSizeOuter(0).tickFormat(''))
    .call(styleAxis);
svg.append('g').attr('transform', 'translate(' + plotRight + ',0)')
    .call(d3.axisRight(y).tickValues(majorTicks).tickSize(-10).tickSizeOuter(0).tickFormat(''))
    .call(styleAxis);

// axis titles
svg.append('text')
    .attr('x', (plotLeft + plotRight) / 2).attr('y', 665)
    .attr('text-anchor', 'middle')
    .style('font-size', '31px')
    .text('In-Phase Component');
svg.append('text')
    .attr('transform', 'translate(35,295) rotate(-90)')
    .attr('text-anchor', 'middle')
    .style('font-size', '31px')
    .text('Quadrature Component');
</script>
</body>
</html>
